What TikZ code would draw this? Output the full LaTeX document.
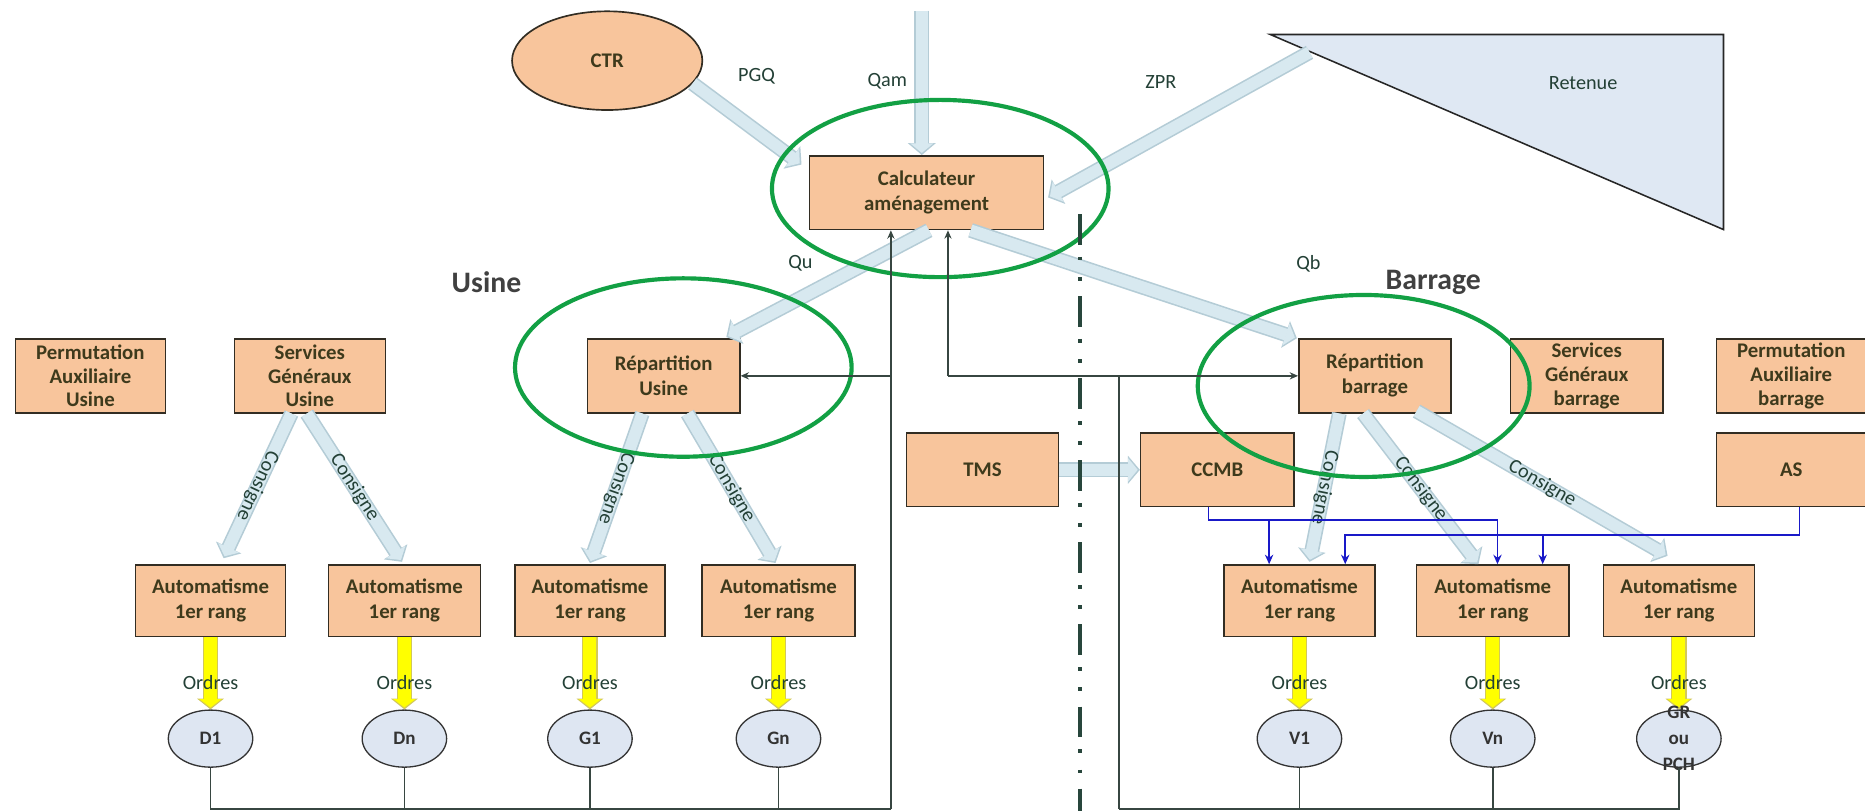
\documentclass[tikz,border=0pt]{standalone}
\usepackage{fontspec}
\setmainfont{Carlito}
\usetikzlibrary{arrows.meta,shapes.geometric,calc}
\definecolor{boxfill}{RGB}{248,197,156}
\definecolor{boxline}{RGB}{50,45,35}
\definecolor{boxtext}{RGB}{62,58,28}
\definecolor{lbl}{RGB}{35,64,54}
\definecolor{bfill}{RGB}{216,233,240}
\definecolor{bedge}{RGB}{180,204,214}
\definecolor{circfill}{RGB}{222,230,242}
\definecolor{trifill}{RGB}{223,232,243}
\definecolor{ringgreen}{RGB}{18,160,68}
\definecolor{fbline}{RGB}{55,70,65}
\definecolor{blueline}{RGB}{25,25,200}
\definecolor{ywfill}{RGB}{255,255,0}
\definecolor{ywedge}{RGB}{210,200,90}
\definecolor{axiscol}{RGB}{40,70,60}
\newcommand\barrow[2]{%
  \draw[bout] #1 -- #2;
  \draw[bin] #1 -- #2;}
\newcommand\yarrow[2]{%
  \draw[yout] #1 -- #2;
  \draw[yin] #1 -- #2;}
\begin{document}
\begin{tikzpicture}[x=1pt,y=-1pt,
  box/.style={draw=boxline, line width=1.3pt, fill=boxfill, align=center, text=boxtext,
    font=\bfseries\fontsize{17.5}{21}\selectfont, inner sep=0pt},
  box3/.style={box, font=\bfseries\fontsize{17.5}{20}\selectfont},
  lab/.style={text=lbl, font=\fontsize{17}{20}\selectfont, inner sep=0pt},
  head/.style={text=black!75, font=\bfseries\fontsize{25}{30}\selectfont},
  circ/.style={ellipse, draw=black!80, line width=1.1pt, fill=circfill, minimum width=71,
    minimum height=48, inner sep=0pt, align=center, text=black!80,
    font=\bfseries\fontsize{16}{22}\selectfont},
  circtext/.style={align=center, text=black!80, inner sep=0pt,
    font=\bfseries\fontsize{16}{22}\selectfont},
  bout/.style={line width=12.5pt, draw=bedge, -{Triangle[width=23pt,length=10pt]}},
  bin/.style={line width=9.8pt, draw=bfill, shorten >=1.8pt, -{Triangle[width=19pt,length=8pt]}},
  yout/.style={line width=13pt, draw=ywedge, -{Triangle[width=22pt,length=9pt]}},
  yin/.style={line width=11pt, draw=ywfill, shorten >=1.6pt, -{Triangle[width=18pt,length=7pt]}},
  ring/.style={draw=ringgreen, line width=3.5pt},
  fb/.style={draw=fbline, line width=1.3pt},
  fbar/.style={fb, -{Stealth[length=7pt,width=6pt]}},
  bl/.style={draw=blueline, line width=1.4pt},
  blar/.style={bl, -{Stealth[length=8pt,width=7pt]}},
  cons/.style={lab, sloped, allow upside down, pos=0.5}
]
\useasboundingbox (0,0) rectangle (1568,682);
\fill[white] (0,0) rectangle (1568,682);

% ---- top
\node[ellipse, draw=boxline, line width=1.4pt, fill=boxfill, minimum width=160, minimum height=83,
  text=boxtext, font=\bfseries\fontsize{17.5}{21}\selectfont] (ctr) at (510.5,51) {CTR};
\draw[draw=black!85, line width=1.3pt, fill=trifill] (1068,29) -- (1449,29) -- (1449,193) -- cycle;
\node[lab] (ret) at (1331,70) {Retenue};
\coordinate (zprs) at (1101,44);
\coordinate (qamtop) at (775,9);

\node[box, minimum width=197, minimum height=62] (calc) at (779,162) {Calculateur\\aménagement};

\node[head] (usine) at (409,237) {Usine};
\node[head] (barrage) at (1205,237) {Barrage};

% ---- row 2
\node[box3, minimum width=126, minimum height=62] (pu) at (76,316) {Permutation\\Auxiliaire\\Usine};
\node[box3, minimum width=127, minimum height=62] (sgu) at (260.5,316) {Services\\Généraux\\Usine};
\node[box, minimum width=128, minimum height=62] (repu) at (558,316) {Répartition\\Usine};
\node[box, minimum width=128, minimum height=62] (repb) at (1156,316) {Répartition\\barrage};
\node[box3, minimum width=128, minimum height=62] (sgb) at (1334,316) {Services\\Généraux\\barrage};
\node[box3, minimum width=126, minimum height=62] (pb) at (1506,316) {Permutation\\Auxiliaire\\barrage};

% ---- row 3
\node[box, minimum width=128, minimum height=62] (tms) at (826,395) {TMS};
\node[box, minimum width=129, minimum height=62] (ccmb) at (1023.5,395) {CCMB};
\node[box, minimum width=126, minimum height=62] (as) at (1506,395) {AS};

% ---- automatismes
\node[box, minimum width=126, minimum height=60] (a1) at (177,505) {Automatisme\\1er rang};
\node[box, minimum width=128, minimum height=60] (a2) at (340,505) {Automatisme\\1er rang};
\node[box, minimum width=126, minimum height=60] (a3) at (496,505) {Automatisme\\1er rang};
\node[box, minimum width=129, minimum height=60] (a4) at (654.5,505) {Automatisme\\1er rang};
\node[box, minimum width=127, minimum height=60] (b1) at (1092.5,505) {Automatisme\\1er rang};
\node[box, minimum width=128, minimum height=60] (b2) at (1255,505) {Automatisme\\1er rang};
\node[box, minimum width=127, minimum height=60] (b3) at (1411.5,505) {Automatisme\\1er rang};

% ---- actuators
\node[circ] (d1) at (177,621) {D1};
\node[circ] (dn) at (340,621) {Dn};
\node[circ] (g1) at (496,621) {G1};
\node[circ] (gn) at (654.5,621) {Gn};
\node[circ] (v1) at (1092.5,621) {V1};
\node[circ] (vn) at (1255,621) {Vn};
\node[circ] (gr) at (1411.5,621) {};

% ---- block arrows (light blue)
\barrow{(ctr.-15)}{([xshift=-6,yshift=-8]calc.north west)}
\barrow{(qamtop)}{(qamtop |- calc.north)}
\barrow{(zprs)}{([xshift=3,yshift=-4]calc.east)}
\barrow{([xshift=2]calc.south)}{([xshift=-12,yshift=1]repu.north east)}
\barrow{([xshift=37]calc.south)}{([xshift=-1]repb.north west)}
\barrow{(tms.east)}{(ccmb.west)}

\barrow{([xshift=-15.5]sgu.south)}{([xshift=11,yshift=5]a1.north)}
\barrow{([xshift=-2.5]sgu.south)}{([xshift=-2,yshift=2]a2.north)}
\barrow{([xshift=-18]repu.south)}{([yshift=1]a3.north)}
\barrow{([xshift=20]repu.south)}{([xshift=-2.5,yshift=1]a4.north)}
\barrow{([xshift=-30]repb.south)}{([xshift=8.5,yshift=2]b1.north)}
\barrow{([xshift=-10]repb.south)}{([xshift=-12]b2.north)}
\barrow{([xshift=35,yshift=2]repb.south)}{([xshift=-9.5,yshift=7]b3.north)}

\path ([xshift=-15.5]sgu.south) -- node[cons] (c1) {Consigne} ([xshift=11,yshift=5]a1.north);
\path ([xshift=-2.5]sgu.south) -- node[cons] (c2) {Consigne} ([xshift=-2,yshift=2]a2.north);
\path ([xshift=-18]repu.south) -- node[cons] (c3) {Consigne} ([yshift=1]a3.north);
\path ([xshift=20]repu.south) -- node[cons] (c4) {Consigne} ([xshift=-2.5,yshift=1]a4.north);
\path ([xshift=-30]repb.south) -- node[cons] (c5) {Consigne} ([xshift=8.5,yshift=2]b1.north);
\path ([xshift=-10]repb.south) -- node[cons] (c6) {Consigne} ([xshift=-12]b2.north);
\path ([xshift=35,yshift=2]repb.south) -- node[cons] (c7) {Consigne} ([xshift=-9.5,yshift=7]b3.north);

% ---- top labels
\node[lab] (pgq) at (636,64) {PGQ};
\node[lab] (qam) at (746,68) {Qam};
\node[lab] (zpr) at (976,69) {ZPR};
\node[lab] (qu) at (673,221) {Qu};
\node[lab] (qb) at (1100,222) {Qb};

% ---- yellow order arrows
\foreach \a/\c in {a1/d1,a2/dn,a3/g1,a4/gn,b1/v1,b2/vn,b3/gr}{
  \yarrow{(\c.north |- \a.south)}{(\c.north)}
  \node[lab] at ($(\c.center)+(0,-47)$) {Ordres};
}
\node[circtext] (grt) at (gr.center) {GR\\ou\\PCH};

% ---- green rings
\draw[ring] (790.5,158.5) ellipse [x radius=141.5, y radius=74.5];
\draw[ring] (574.5,309) ellipse [x radius=141.5, y radius=75];
\draw[ring] (1146.5,324.5) ellipse [x radius=139.5, y radius=76.5];

% ---- separation axis
\draw[draw=axiscol, line width=3pt, dash pattern=on 26pt off 10pt on 3pt off 14pt on 3pt off 13pt] (908,180) -- (908,682);

% ---- feedback lines
\coordinate (jl) at (749,680);
\coordinate (jr) at (941,680);
\coordinate (tl) at (749,316);
\coordinate (tr1) at (797,316);
\coordinate (tr2) at (941,316);
\draw[fb] (d1.south) |- (jl);
\draw[fb] (dn.south) -- (dn.south |- jl);
\draw[fb] (g1.south) -- (g1.south |- jl);
\draw[fb] (gn.south) -- (gn.south |- jl);
\draw[fbar] (jl) -- (jl |- calc.south);
\draw[fbar] (tl) -- (repu.east);
\draw[fb] (gr.south) |- (jr);
\draw[fb] (v1.south) -- (v1.south |- jr);
\draw[fb] (vn.south) -- (vn.south |- jr);
\draw[fb] (jr) -- (tr2);
\draw[fbar] (tr1) -- (repb.west);
\draw[fbar] (tr1) -- (tr1 |- calc.south);

% ---- blue command lines
\coordinate (cc) at (1067,437);
\coordinate (aa) at (1297,450);
\draw[bl] ([xshift=-7.5]ccmb.south) |- (cc);
\draw[blar] (cc) -- (cc |- b1.north);
\draw[blar] (cc) -| ([xshift=4]b2.north);
\draw[bl] ([xshift=7]as.south) |- (aa);
\draw[blar] (aa) -- (aa |- b2.north);
\draw[blar] (aa) -| ([xshift=38.5]b1.north);
\end{tikzpicture}
\end{document}
